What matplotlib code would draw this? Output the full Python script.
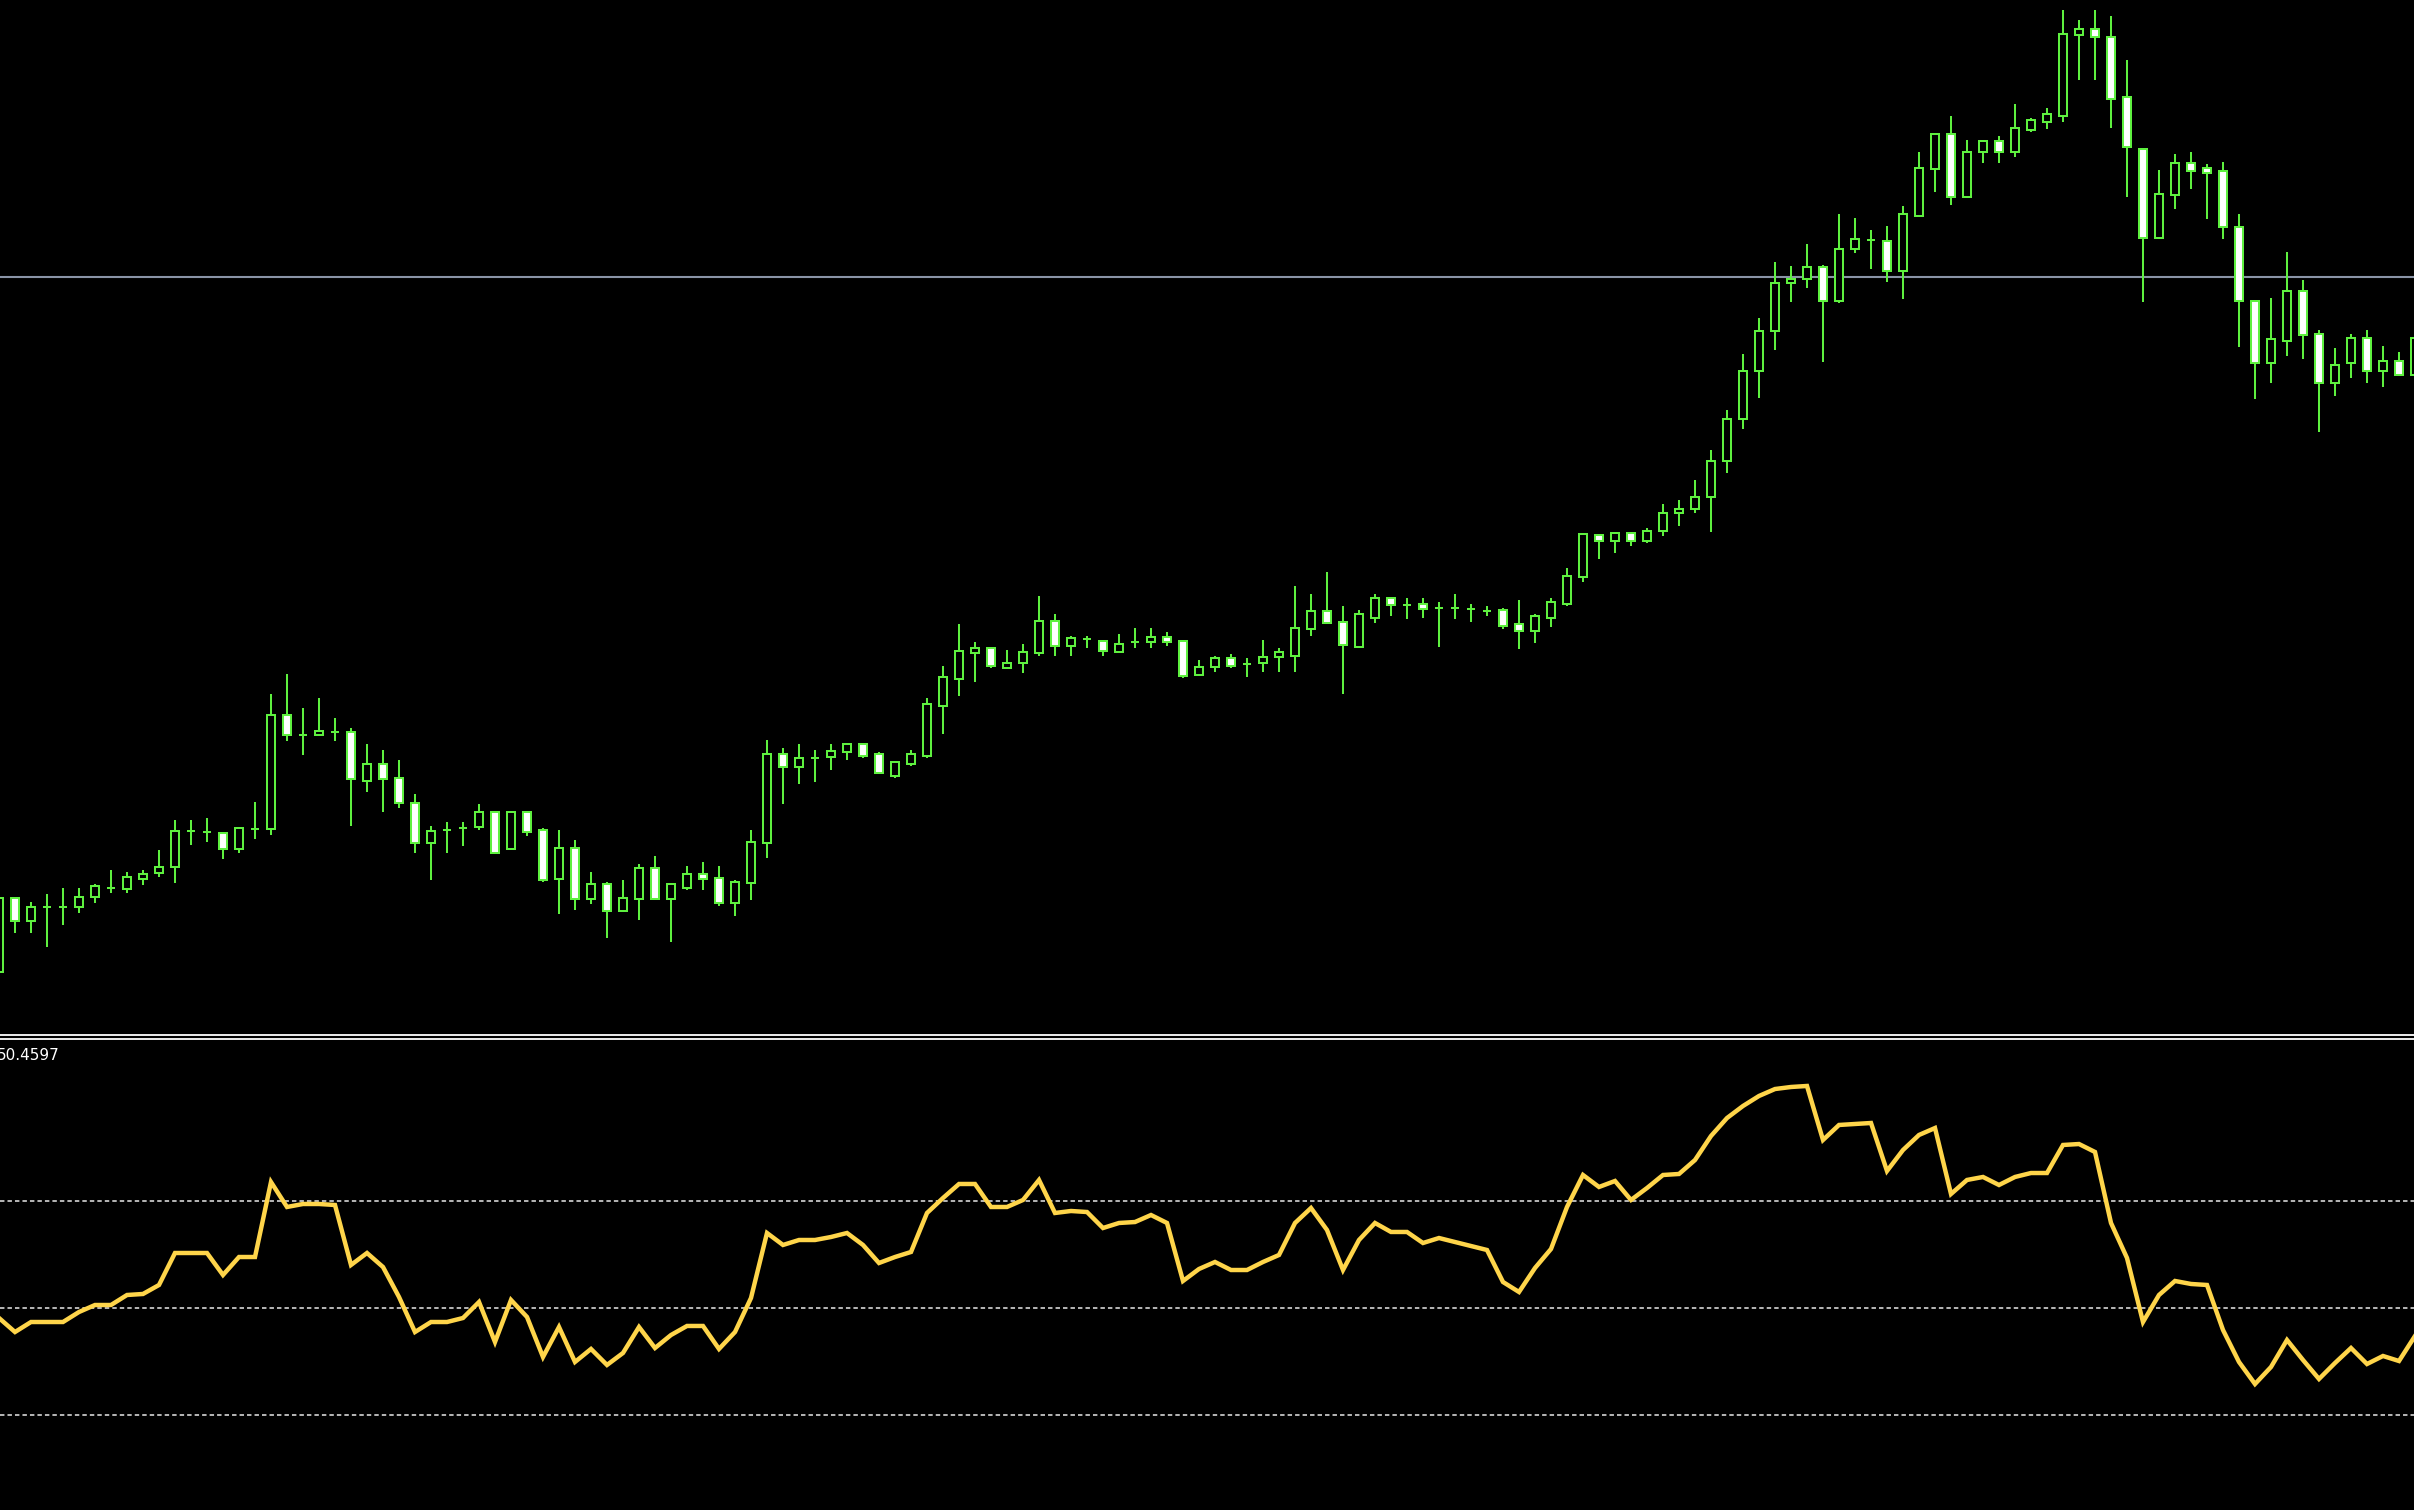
import numpy as np
import matplotlib
matplotlib.use("Agg")
import matplotlib.pyplot as plt

# price data (points), one candle per bar
opens = [62, 136, 113, 127, 127, 127, 137, 146, 145, 155,
         161, 167, 203, 202, 201, 185, 205, 205, 319, 299,
         299, 302, 302, 253, 270, 256, 231, 191, 204, 206,
         207, 222, 185, 222, 204, 155, 186, 135, 150, 123,
         135, 166, 135, 146, 160, 156, 131, 151, 191, 280,
         267, 276, 277, 282, 290, 280, 258, 270, 278, 328,
         355, 381, 386, 366, 371, 381, 413, 388, 395, 393,
         382, 392, 392, 397, 393, 359, 367, 376, 370, 371,
         377, 378, 405, 423, 412, 387, 416, 436, 429, 430,
         426, 426, 425, 423, 424, 410, 403, 416, 430, 457,
         499, 493, 501, 493, 503, 521, 525, 537, 573, 615,
         663, 703, 751, 755, 767, 733, 785, 794, 793, 763,
         818, 865, 900, 837, 882, 893, 882, 904, 912, 918,
         999, 1005, 997, 937, 885, 796, 839, 871, 866, 863,
         807, 733, 671, 693, 743, 700, 651, 671, 696, 663,
         673, 659]
highs = [139, 137, 132, 140, 146, 146, 150, 164, 162, 164,
         184, 214, 214, 216, 201, 207, 232, 340, 360, 326,
         336, 316, 306, 290, 284, 274, 240, 208, 212, 212,
         230, 223, 223, 223, 206, 204, 194, 162, 152, 154,
         170, 178, 150, 168, 172, 168, 154, 204, 294, 286,
         290, 284, 290, 290, 290, 282, 272, 284, 336, 368,
         410, 392, 386, 384, 390, 438, 420, 398, 398, 393,
         400, 406, 406, 402, 393, 374, 378, 380, 376, 394,
         386, 448, 440, 462, 428, 424, 440, 437, 436, 436,
         432, 440, 430, 428, 426, 434, 420, 436, 466, 500,
         500, 501, 501, 506, 530, 534, 554, 584, 624, 680,
         716, 772, 768, 790, 769, 820, 816, 804, 808, 828,
         882, 901, 918, 894, 893, 898, 930, 916, 926, 1024,
         1014, 1024, 1018, 974, 885, 864, 880, 882, 870, 872,
         820, 733, 736, 782, 754, 704, 686, 700, 704, 688,
         682, 699]
lows = [59, 101, 101, 87, 109, 121, 131, 141, 141, 149,
        157, 151, 189, 192, 175, 181, 195, 199, 293, 279,
        299, 293, 208, 242, 222, 226, 181, 154, 181, 188,
        204, 181, 185, 198, 152, 120, 124, 130, 96, 123,
        114, 135, 92, 144, 144, 128, 118, 134, 176, 230,
        250, 252, 264, 274, 276, 261, 256, 268, 276, 300,
        338, 352, 366, 366, 361, 378, 378, 378, 386, 378,
        381, 386, 386, 388, 356, 359, 362, 366, 357, 362,
        362, 362, 398, 411, 340, 386, 411, 418, 415, 416,
        387, 415, 412, 418, 405, 385, 391, 407, 428, 452,
        475, 481, 488, 491, 498, 508, 521, 502, 561, 605,
        636, 684, 732, 746, 672, 731, 781, 765, 752, 735,
        817, 842, 829, 837, 871, 871, 877, 902, 905, 912,
        954, 954, 906, 837, 732, 796, 825, 845, 815, 795,
        687, 635, 651, 678, 675, 602, 638, 656, 651, 647,
        659, 654]
closes = [136, 113, 127, 127, 127, 137, 148, 146, 157, 160,
          167, 203, 203, 202, 185, 206, 205, 319, 299, 299,
          303, 302, 255, 270, 255, 231, 191, 203, 204, 206,
          222, 181, 222, 202, 154, 186, 135, 150, 123, 136,
          166, 135, 150, 160, 155, 131, 152, 192, 280, 267,
          276, 276, 283, 290, 278, 261, 272, 280, 330, 357,
          383, 386, 368, 371, 382, 413, 388, 396, 395, 383,
          390, 392, 397, 392, 358, 367, 376, 368, 370, 377,
          382, 406, 423, 411, 389, 420, 436, 429, 429, 425,
          426, 426, 425, 423, 408, 403, 418, 432, 458, 500,
          493, 501, 493, 503, 521, 525, 537, 573, 615, 663,
          703, 751, 755, 767, 733, 785, 795, 794, 763, 820,
          866, 900, 837, 882, 893, 882, 906, 914, 920, 1000,
          1005, 997, 935, 887, 796, 840, 871, 863, 861, 807,
          733, 671, 695, 743, 699, 651, 669, 696, 663, 673,
          659, 696]

rsi = [48.13, 45.51, 47.38, 47.38, 47.38, 49.25, 50.56, 50.56, 52.43, 52.62,
       54.30, 60.28, 60.28, 60.28, 56.17, 59.53, 59.53, 73.55, 68.88, 69.44,
       69.44, 69.25, 58.04, 60.28, 57.66, 52.06, 45.51, 47.38, 47.38, 48.13,
       51.12, 43.64, 51.50, 48.32, 40.84, 46.45, 39.91, 42.34, 39.35, 41.59,
       46.45, 42.52, 44.95, 46.64, 46.64, 42.34, 45.51, 51.87, 64.02, 61.78,
       62.71, 62.71, 63.27, 64.02, 61.78, 58.41, 59.53, 60.47, 67.76, 70.56,
       73.18, 73.18, 68.88, 68.88, 70.19, 73.93, 67.76, 68.13, 67.94, 64.95,
       65.89, 66.07, 67.38, 65.89, 55.05, 57.29, 58.60, 57.10, 57.10, 58.60,
       59.91, 65.89, 68.69, 64.58, 57.10, 62.71, 65.89, 64.21, 64.21, 62.15,
       63.08, 62.34, 61.59, 60.84, 54.86, 52.99, 57.48, 61.03, 68.88, 74.86,
       72.62, 73.74, 70.19, 72.43, 74.86, 75.05, 77.66, 82.15, 85.51, 87.76,
       89.63, 90.93, 91.31, 91.50, 81.40, 84.21, 84.39, 84.58, 75.61, 79.53,
       82.34, 83.64, 71.31, 73.93, 74.49, 72.99, 74.49, 75.23, 75.23, 80.47,
       80.65, 79.16, 65.89, 59.35, 47.38, 52.43, 55.05, 54.49, 54.30, 45.89,
       39.91, 35.79, 38.97, 44.02, 40.28, 36.73, 39.72, 42.52, 39.53, 41.03,
       40.09, 44.77]

rsi_levels = [70, 50, 30]
rsi_label = "50.4597"
hline_price = 757

green = "#5ef03f"
W, H = 2414, 1510

o = np.array(opens); c = np.array(closes)
x = np.arange(len(opens))
lo_body = np.minimum(o, c)
hi_body = np.maximum(o, c)
face = np.where(c < o, "white", "black")

fig = plt.figure(figsize=(W / 100, H / 100), dpi=100, facecolor="black")

# main chart
ax = fig.add_axes([0, 1 - 1035 / H, 1, 1035 / H], facecolor="black")
ax.axhline(hline_price, color="#8a94a6", lw=1.5, zorder=1)
ax.vlines(x, lows, highs, color=green, lw=1.45, zorder=2)
ax.bar(x, hi_body - lo_body, bottom=lo_body, width=0.5, color=face,
       edgecolor=green, linewidth=1.45, zorder=3)
ax.set_xlim(0.0625, 150.9375)
ax.set_ylim(-1, 1034)
ax.set_xticks([]); ax.set_yticks([])
for s in ax.spines.values():
    s.set_visible(False)
ax.spines["bottom"].set_visible(True)
ax.spines["bottom"].set_color("white")
ax.spines["bottom"].set_linewidth(1.3)

# RSI window
rax = fig.add_axes([0, 0, 1, 471 / H], facecolor="black")
for lv in rsi_levels:
    rax.axhline(lv, color="#e8e8e8", lw=1.1, linestyle=(0, (2.9, 2.0)), zorder=1)
rax.plot(x, rsi, color="#ffd54a", lw=3.2, zorder=2, solid_joinstyle="miter")
rax.set_xlim(0.0625, 150.9375)
rax.set_ylim(12.24, 100.28)
rax.set_xticks([]); rax.set_yticks([])
for s in rax.spines.values():
    s.set_visible(False)
rax.spines["top"].set_visible(True)
rax.spines["top"].set_color("white")
rax.spines["top"].set_linewidth(1.3)

fig.text(-0.0015, 1 - 1048 / H, rsi_label, color="white", fontsize=11,
         ha="left", va="top")

fig.savefig("out.png", dpi=100, facecolor="black")
